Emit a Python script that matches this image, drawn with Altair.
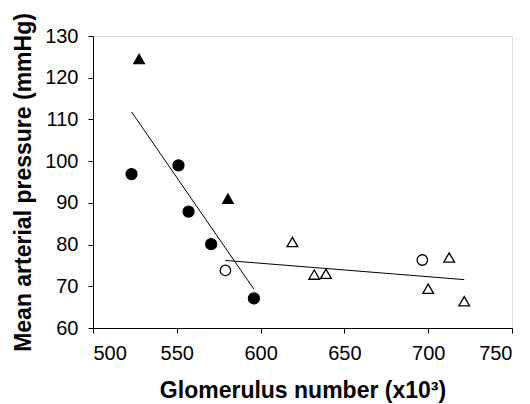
import altair as alt
import pandas as pd

# Filled circles
fc_x = [523, 551, 557, 570.5, 596]
fc_y = [96.9, 99.0, 87.9, 80.1, 67.1]
# Filled triangles
ft_x = [527.5, 580.5]
ft_y = [124.5, 91.0]
# Open circles
oc_x = [579, 696.5]
oc_y = [73.8, 76.3]
# Open triangles
ot_x = [619, 632, 639, 700, 712.5, 721.5]
ot_y = [80.6, 72.8, 73.0, 69.4, 76.9, 66.4]
# Trend lines (endpoints)
l1_x = [523, 596]
l1_y = [111.8, 69.3]
l2_x = [579, 721.5]
l2_y = [76.2, 71.6]

FONT = "Liberation Sans"

xs = alt.Scale(domain=[500, 750], nice=False, zero=False)
ys = alt.Scale(domain=[60, 130], nice=False, zero=False)

xax = alt.Axis(values=[500, 550, 600, 650, 700, 750], title="Glomerulus number (x10³)",
               grid=False, domainColor="black", tickColor="black", tickSize=5,
               labelFont=FONT, labelFontSize=20, labelColor="black", labelPadding=10,
               titleFont=FONT, titleFontSize=23, titleFontWeight="bold", titleColor="black",
               titleBaseline="alphabetic", titleY=69)
yax = alt.Axis(values=[60, 70, 80, 90, 100, 110, 120, 130], title="Mean arterial pressure (mmHg)",
               grid=False, domainColor="black", tickColor="black", tickSize=5,
               labelFont=FONT, labelFontSize=20, labelColor="black", labelPadding=10,
               titleFont=FONT, titleFontSize=23, titleFontWeight="bold", titleColor="black",
               titleBaseline="alphabetic", titleX=-63, titleY=146)

def pts(x, y, shape, filled, size):
    df = pd.DataFrame({"x": x, "y": y})
    return alt.Chart(df).mark_point(
        shape=shape, filled=True, size=size,
        fill="black" if filled else "white",
        stroke="black", strokeWidth=1.3, opacity=1,
    ).encode(x=alt.X("x:Q", scale=xs, axis=xax), y=alt.Y("y:Q", scale=ys, axis=yax))

def line(x, y):
    df = pd.DataFrame({"x": x, "y": y})
    return alt.Chart(df).mark_line(color="black", strokeWidth=1).encode(
        x=alt.X("x:Q", scale=xs, axis=xax), y=alt.Y("y:Q", scale=ys, axis=yax))

chart = alt.layer(
    line(l1_x, l1_y),
    line(l2_x, l2_y),
    pts(fc_x, fc_y, "circle", True, 120),
    pts(ft_x, ft_y, "triangle-up", True, 110),
    pts(oc_x, oc_y, "circle", False, 110),
    pts(ot_x, ot_y, "triangle-up", False, 115),
).properties(
    width=419, height=292,
    autosize=alt.AutoSizeParams(type="none"),
    padding={"left": 85, "top": 28, "right": 10, "bottom": 84},
).configure_view(stroke=None).configure(background="white")

chart.save("out.html", embed_options={"renderer": "svg", "actions": False})
